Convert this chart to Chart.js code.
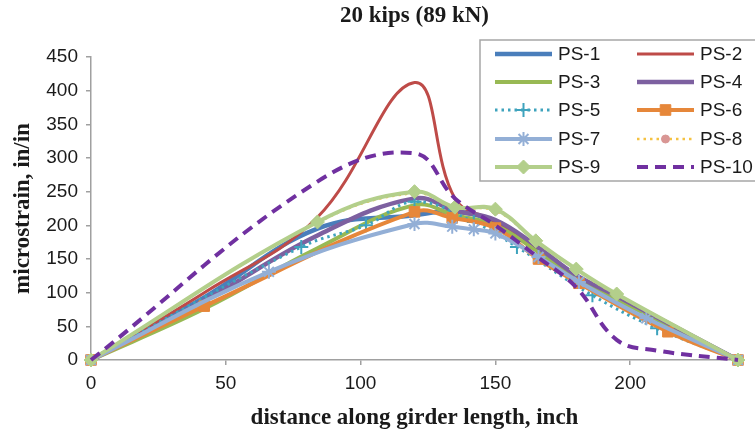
<!DOCTYPE html>
<html>
<head>
<meta charset="utf-8">
<script src="https://cdn.jsdelivr.net/npm/chart.js@4/dist/chart.umd.min.js"></script>
<style>
  html, body { margin: 0; padding: 0; background: #fff; }
  #wrap { width: 755px; height: 434px; position: relative; }
</style>
</head>
<body>
<div id="wrap"><canvas id="chart" width="755" height="434"></canvas></div>
<script>
// Datos (distancia en pulgadas, microdeformación)
const titulo = '20 kips (89 kN)';
const tituloX = 'distance along girder length, inch';
const tituloY = 'microstrain, in/in';
const nombres = ['PS-1', 'PS-2', 'PS-3', 'PS-4', 'PS-5', 'PS-6', 'PS-7', 'PS-8', 'PS-9', 'PS-10'];

const xComun = [0, 42, 84, 120, 135, 150, 165, 180, 195, 240];
const ps1 = [0, 93, 195, 215, 220, 205, 165, 122, 92, 0];
const ps2 = [0, 100, 212, 412, 240, 205, 165, 122, 92, 0];
const ps3 = [0, 76, 166, 230, 215, 200, 163, 120, 90, 0];
const ps4 = [0, 88, 185, 240, 222, 208, 170, 126, 95, 0];

const xPs5 = [0, 78, 102, 120, 142, 158, 186, 210, 240];
const ps5 = [0, 168, 200, 235, 205, 168, 96, 47, 0];

const xPs6 = [0, 42, 120, 134, 150, 166, 181, 214, 240];
const ps6 = [0, 80, 220, 211, 196, 150, 114, 42, 0];

const xPs7 = [0, 66, 120, 134, 142, 150, 166, 181, 206, 240];
const ps7 = [0, 131, 202, 198, 194, 188, 153, 116, 62, 0];

// PS-8 queda tapada por PS-9 en la figura
const xPs8 = [0, 84, 120, 135, 150, 165, 180, 195, 240];
const ps8 = [0, 204, 248, 226, 222, 176, 134, 97, 0];

const xPs9 = [0, 84, 120, 135, 150, 165, 180, 195, 240];
const ps9 = [0, 205, 250, 227, 224, 177, 135, 98, 0];

const xPs10 = [0, 84, 120, 135, 150, 165, 180, 195, 210, 240];
const ps10 = [0, 265, 307, 240, 200, 155, 108, 30, 14, 0];

const yTicks = [0, 50, 100, 150, 200, 250, 300, 350, 400, 450];
const xTicks = [0, 50, 100, 150, 200];

function puntos(xs, ys) {
  return xs.map((x, i) => ({ x: x, y: ys[i] }));
}

// Estilos de cada serie
const estilos = [
  { color: '#4a7ebb', ancho: 4.5 },
  { color: '#be4b48', ancho: 3 },
  { color: '#98b954', ancho: 4 },
  { color: '#7d60a0', ancho: 4.5 },
  { color: '#3ea3bd', ancho: 3, dash: [2.5, 4], punto: 'cross', radio: 7 },
  { color: '#e6873a', ancho: 4, punto: 'rect', radio: 7.5 },
  { color: '#93afd6', ancho: 4, punto: 'star', radio: 7 },
  { color: '#f5c242', ancho: 2.5, dash: [2.5, 4], punto: 'circle', radio: 4, relleno: '#d99694' },
  { color: '#b3cf8b', ancho: 4, punto: 'rectRot', radio: 7 },
  { color: '#7030a0', ancho: 4, dash: [11, 7] }
];

const series = [
  puntos(xComun, ps1), puntos(xComun, ps2), puntos(xComun, ps3), puntos(xComun, ps4),
  puntos(xPs5, ps5), puntos(xPs6, ps6), puntos(xPs7, ps7), puntos(xPs8, ps8),
  puntos(xPs9, ps9), puntos(xPs10, ps10)
];

const datasets = series.map((datos, i) => {
  const e = estilos[i];
  return {
    label: nombres[i],
    data: datos,
    borderColor: e.color,
    backgroundColor: e.relleno || e.color,
    borderWidth: e.ancho,
    borderDash: e.dash || [],
    tension: 0.4,
    fill: false,
    clip: false,
    pointStyle: e.punto || 'circle',
    pointRadius: e.punto ? e.radio : 0,
    pointBorderColor: e.relleno || e.color,
    pointBackgroundColor: e.relleno || e.color,
    pointBorderWidth: e.punto === 'cross' || e.punto === 'star' ? 2 : 1,
    order: nombres.length - i
  };
});

// Título y leyenda dibujados a mano, como en la figura original
const extras = {
  id: 'extras',
  afterDraw(chart) {
    const ctx = chart.ctx;
    const area = chart.chartArea;
    ctx.save();
    ctx.fillStyle = '#1a1a1a';
    ctx.font = 'bold 23px "Liberation Serif"';
    ctx.textAlign = 'center';
    ctx.textBaseline = 'middle';
    ctx.fillText(titulo, (area.left + area.right) / 2, 16);

    // caja de la leyenda
    ctx.fillStyle = '#fff';
    ctx.fillRect(480, 40, 290, 141);
    ctx.strokeStyle = '#a6a6a6';
    ctx.lineWidth = 1.5;
    ctx.strokeRect(480, 40, 290, 141);

    const colX = [495, 637];
    const filas = [54, 82, 110, 139, 167];
    ctx.font = '19px "Liberation Sans"';
    ctx.textAlign = 'left';
    nombres.forEach((nombre, i) => {
      const e = estilos[i];
      const x0 = colX[i % 2];
      const y = filas[Math.floor(i / 2)];
      ctx.save();
      ctx.strokeStyle = e.color;
      ctx.lineWidth = e.ancho;
      ctx.setLineDash(e.dash || []);
      ctx.beginPath();
      ctx.moveTo(x0, y);
      ctx.lineTo(x0 + 57, y);
      ctx.stroke();
      ctx.restore();
      if (e.punto) {
        ctx.save();
        ctx.fillStyle = e.relleno || e.color;
        ctx.strokeStyle = e.relleno || e.color;
        ctx.lineWidth = (e.punto === 'cross' || e.punto === 'star') ? 2 : 1;
        Chart.helpers.drawPoint(ctx, { pointStyle: e.punto, radius: e.radio, borderWidth: ctx.lineWidth }, x0 + 28.5, y);
        ctx.restore();
      }
      ctx.fillStyle = '#1a1a1a';
      ctx.textBaseline = 'middle';
      ctx.fillText(nombre, x0 + 63, y + 1);
    });
    ctx.restore();
  }
};

new Chart(document.getElementById('chart'), {
  type: 'line',
  data: { datasets: datasets },
  options: {
    responsive: false,
    animation: false,
    layout: { padding: { top: 57, right: 17, left: 0, bottom: 0 } },
    plugins: {
      legend: { display: false },
      title: { display: false },
      tooltip: { enabled: false }
    },
    scales: {
      x: {
        type: 'linear',
        min: 0,
        max: 240,
        afterBuildTicks: function(scale) {
          scale.ticks = xTicks.map(v => ({ value: v }));
        },
        afterFit: function(scale) { scale.height = 74; },
        grid: { drawOnChartArea: false, drawTicks: true, tickLength: 5, color: '#a0a0a0', lineWidth: 1.5 },
        border: { color: '#a0a0a0', width: 1.5 },
        ticks: { color: '#1a1a1a', font: { family: 'Liberation Sans', size: 19 }, padding: 7 },
        title: {
          display: true,
          text: tituloX,
          color: '#1a1a1a',
          font: { family: 'Liberation Serif', size: 23, weight: 'bold' },
          padding: { top: 0, bottom: 2 }
        }
      },
      y: {
        min: 0,
        max: 450,
        afterBuildTicks: function(scale) {
          scale.ticks = yTicks.map(v => ({ value: v }));
        },
        afterFit: function(scale) { scale.width = 91; },
        grid: { drawOnChartArea: false, drawTicks: true, tickLength: 5, color: '#a0a0a0', lineWidth: 1.5 },
        border: { color: '#a0a0a0', width: 1.5 },
        ticks: { color: '#1a1a1a', font: { family: 'Liberation Sans', size: 19 }, padding: 8 },
        title: {
          display: true,
          text: tituloY,
          color: '#1a1a1a',
          font: { family: 'Liberation Serif', size: 23, weight: 'bold' },
          padding: { top: 9, bottom: 0 }
        }
      }
    }
  },
  plugins: [extras]
});
</script>
</body>
</html>
